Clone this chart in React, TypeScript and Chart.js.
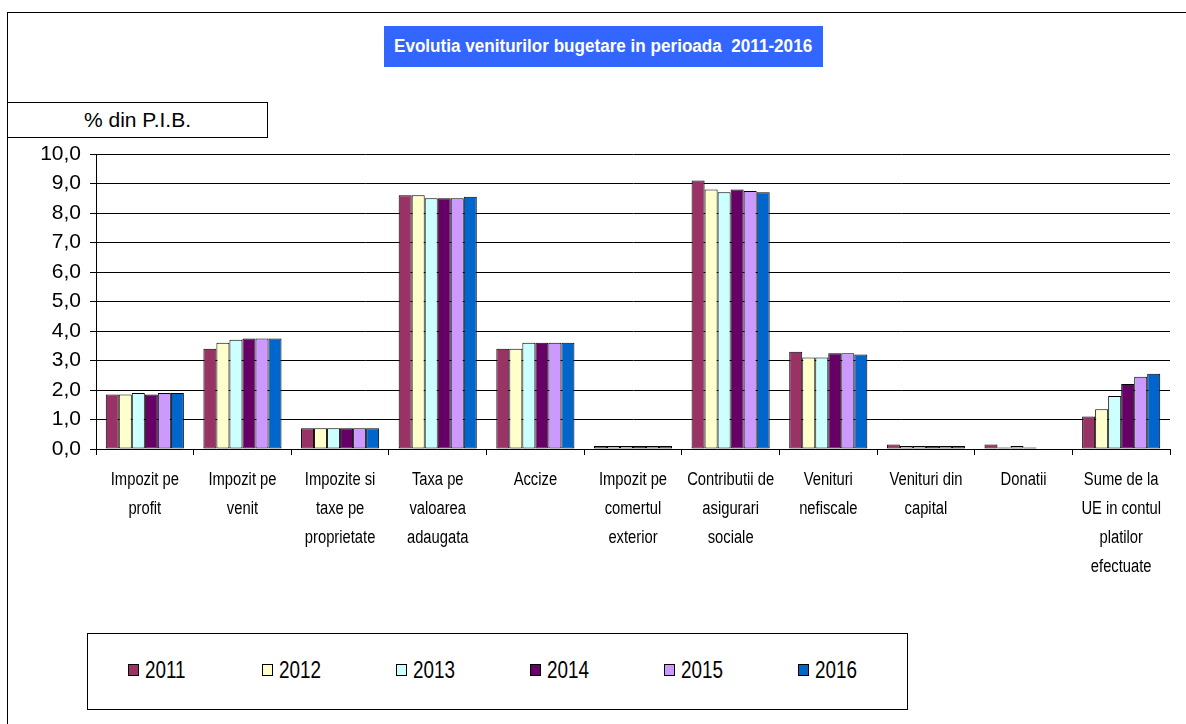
import React, { useEffect, useRef } from "react";
import { Chart, registerables } from "chart.js";

Chart.register(...registerables);

const categories: string[][] = [
  ["Impozit pe", "profit"],
  ["Impozit pe", "venit"],
  ["Impozite si", "taxe pe", "proprietate"],
  ["Taxa pe", "valoarea", "adaugata"],
  ["Accize"],
  ["Impozit pe", "comertul", "exterior"],
  ["Contributii de", "asigurari", "sociale"],
  ["Venituri", "nefiscale"],
  ["Venituri din", "capital"],
  ["Donatii"],
  ["Sume de la", "UE in contul", "platilor", "efectuate"],
];

const years = ["2011", "2012", "2013", "2014", "2015", "2016"];

const v2011 = [1.85, 3.4, 0.7, 8.6, 3.4, 0.1, 9.1, 3.3, 0.15, 0.15, 1.1];
const v2012 = [1.85, 3.6, 0.7, 8.6, 3.4, 0.1, 8.8, 3.1, 0.1, 0.05, 1.35];
const v2013 = [1.9, 3.7, 0.7, 8.5, 3.6, 0.1, 8.7, 3.1, 0.1, 0.1, 1.8];
const v2014 = [1.85, 3.75, 0.7, 8.5, 3.6, 0.1, 8.8, 3.25, 0.1, 0.05, 2.2];
const v2015 = [1.9, 3.75, 0.7, 8.5, 3.6, 0.1, 8.75, 3.25, 0.1, null, 2.45];
const v2016 = [1.9, 3.75, 0.7, 8.55, 3.6, 0.1, 8.7, 3.2, 0.1, null, 2.55];

const seriesValues = [v2011, v2012, v2013, v2014, v2015, v2016];
const seriesColors = ["#993366", "#FFFFCC", "#CCFFFF", "#660066", "#CC99FF", "#0066CC"];

const yTicks = [0, 1, 2, 3, 4, 5, 6, 7, 8, 9, 10];

const titleText = "Evolutia veniturilor bugetare in perioada  2011-2016";
const yLabelText = "% din P.I.B.";

const REGULAR = '"Liberation Sans", Arial, sans-serif';

// Draws the multi-line category labels (condensed, like the original) at the
// positions given by the library's own x scale.
const xLabelPlugin = {
  id: "condensedXLabels",
  afterDraw(chart: any) {
    const scale = chart.scales.x;
    const ctx = chart.ctx;
    ctx.save();
    ctx.font = `18px ${REGULAR}`;
    ctx.fillStyle = "#000000";
    ctx.textAlign = "center";
    ctx.textBaseline = "middle";
    (chart.data.labels as string[][]).forEach((lab, i) => {
      const x = scale.getPixelForTick(i);
      lab.forEach((line, k) => {
        ctx.save();
        ctx.translate(x, scale.top + 31 + k * 29);
        ctx.scale(0.82, 1);
        ctx.fillText(line, 0, 0);
        ctx.restore();
      });
    });
    ctx.restore();
  },
};

export default function App() {
  const canvasRef = useRef<HTMLCanvasElement | null>(null);

  useEffect(() => {
    if (!canvasRef.current) return;
    const chart = new Chart(canvasRef.current, {
      type: "bar",
      data: {
        labels: categories,
        datasets: years.map((y, i) => ({
          label: y,
          data: seriesValues[i],
          backgroundColor: seriesColors[i],
          borderColor: "#000000",
          borderWidth: 1,
          borderSkipped: false,
          categoryPercentage: 0.8,
          barPercentage: 1.0,
        })),
      },
      options: {
        responsive: false,
        animation: false,
        layout: { padding: { left: 0, right: 16, top: 154, bottom: 135 } },
        plugins: {
          legend: { display: false },
          title: { display: false },
          tooltip: { enabled: false },
        },
        scales: {
          x: {
            offset: true,
            grid: {
              display: true,
              drawOnChartArea: false,
              drawTicks: true,
              tickLength: 6,
              color: "#000000",
              offset: true,
            },
            border: { display: true, color: "#000000", width: 1 },
            ticks: { display: false, autoSkip: false, maxRotation: 0 },
            afterFit: (scale: any) => {
              scale.height = 140;
            },
          },
          y: {
            min: 0,
            max: 10,
            afterBuildTicks: (scale: any) => {
              scale.ticks = yTicks.map((v) => ({ value: v }));
            },
            grid: {
              display: true,
              drawOnChartArea: true,
              drawTicks: true,
              tickLength: 6,
              color: "#000000",
              lineWidth: 1,
            },
            border: { display: true, color: "#000000", width: 1 },
            ticks: {
              color: "#000000",
              font: { family: REGULAR, size: 21 },
              padding: 9,
              callback: (v: any) => Number(v).toFixed(1).replace(".", ","),
            },
            afterFit: (scale: any) => {
              scale.width = 96;
            },
          },
        },
      },
      plugins: [xLabelPlugin],
    });
    return () => chart.destroy();
  }, []);

  return (
    <div
      style={{
        position: "absolute",
        left: 0,
        top: 0,
        width: 1186,
        height: 724,
        overflow: "hidden",
        background: "#ffffff",
      }}
    >
      <div
        style={{
          position: "absolute",
          left: 7,
          top: 12,
          width: 1300,
          height: 900,
          border: "1px solid #000",
          boxSizing: "border-box",
        }}
      />
      <canvas
        ref={canvasRef}
        width={1186}
        height={724}
        style={{ position: "absolute", left: 0, top: 0, display: "block" }}
      />
      <div
        style={{
          position: "absolute",
          left: 384,
          top: 26,
          width: 439,
          height: 41,
          background: "#3366FF",
          color: "#ffffff",
          fontFamily: REGULAR,
          fontWeight: "bold",
          fontSize: 18,
          display: "flex",
          alignItems: "center",
          justifyContent: "center",
          whiteSpace: "pre",
        }}
      >
        <span style={{ display: "inline-block", transform: "scale(0.95, 1.05)" }}>{titleText}</span>
      </div>
      <div
        style={{
          position: "absolute",
          left: 7,
          top: 102,
          width: 261,
          height: 36,
          border: "1.5px solid #000",
          boxSizing: "border-box",
          background: "#fff",
          fontFamily: REGULAR,
          fontSize: 21,
          display: "flex",
          alignItems: "center",
          justifyContent: "center",
          color: "#000",
        }}
      >
        {yLabelText}
      </div>
      <div
        style={{
          position: "absolute",
          left: 87,
          top: 633,
          width: 821,
          height: 77,
          border: "1px solid #000",
          boxSizing: "border-box",
          background: "#fff",
        }}
      >
        {years.map((y, i) => (
          <div
            key={y}
            style={{
              position: "absolute",
              left: 40 + i * 134,
              top: 21,
              height: 30,
              display: "flex",
              alignItems: "center",
              fontFamily: REGULAR,
              fontSize: 23,
              color: "#000",
            }}
          >
            <span
              style={{
                display: "inline-block",
                width: 11,
                height: 12,
                background: seriesColors[i],
                border: "1px solid #000",
                boxSizing: "border-box",
                marginRight: 6,
              }}
            />
            <span style={{ display: "inline-block", transform: "scaleX(0.82)", transformOrigin: "left center" }}>
              {y}
            </span>
          </div>
        ))}
      </div>
    </div>
  );
}
